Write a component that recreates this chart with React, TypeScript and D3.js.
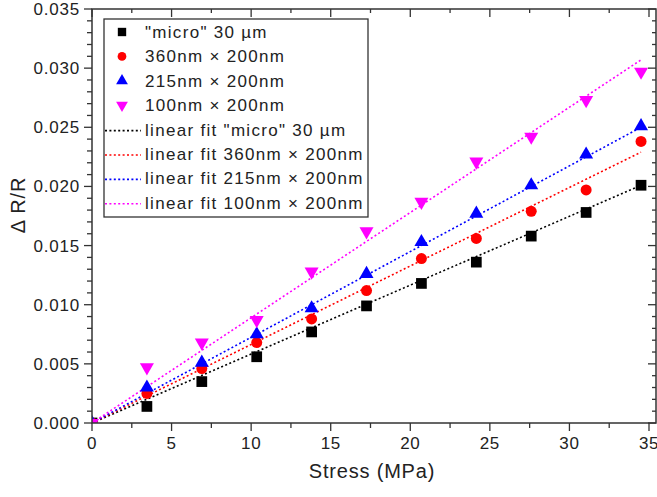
import React, { useEffect, useRef } from "react";
import * as d3 from "d3";

// stress values (MPa) shared by all series
const stress = [0, 3.45, 6.9, 10.35, 13.8, 17.25, 20.7, 24.15, 27.6, 31.05, 34.5];

const micro30 = [0, 0.0014, 0.0035, 0.0056, 0.0077, 0.0099, 0.0118, 0.0136, 0.0158, 0.0178, 0.0201];
const nm360 = [0, 0.0025, 0.0046, 0.0068, 0.0088, 0.0112, 0.0139, 0.0156, 0.0179, 0.0197, 0.0238];
const nm215 = [0, 0.0030, 0.0051, 0.0075, 0.0097, 0.0126, 0.0153, 0.0177, 0.0201, 0.0227, 0.0251];
const nm100 = [0, 0.0047, 0.0068, 0.0087, 0.0128, 0.0162, 0.0187, 0.0221, 0.0242, 0.0273, 0.0297];

// linear fit end values at the last stress point (fits go through origin)
const fitEnds = [0.0201, 0.0229, 0.025, 0.0307];

const seriesNames = ['"micro" 30 µm', "360nm × 200nm", "215nm × 200nm", "100nm × 200nm"];
const fitNames = seriesNames.map((n) => "linear fit " + n);
const colors = ["#000000", "#ff0000", "#0000ff", "#ff00ff"];
const seriesValues = [micro30, nm360, nm215, nm100];

const xTicks = [0, 5, 10, 15, 20, 25, 30, 35];
const yTicks = [0, 0.005, 0.01, 0.015, 0.02, 0.025, 0.03, 0.035];

const W = 657;
const H = 497;
const left = 92;
const right = 656;
const top = 9;
const bottom = 423;

const font = "'Liberation Sans', Arial, sans-serif";
const textColor = "#222";
const axisColor = "#333";

const symbolFor = (i, size) => {
  if (i === 0) return d3.symbol(d3.symbolSquare, size)();
  if (i === 1) return d3.symbol(d3.symbolCircle, size)();
  return d3.symbol(d3.symbolTriangle, size)();
};

const App = () => {
  const ref = useRef(null);

  useEffect(() => {
    const x = d3.scaleLinear().domain([0, 35.44]).range([left, right]);
    const y = d3.scaleLinear().domain([0, 0.035]).range([bottom, top]);

    const svg = d3.select(ref.current);
    svg.selectAll("*").remove();

    svg.append("rect").attr("width", W).attr("height", H).attr("fill", "white");

    svg
      .append("defs")
      .append("clipPath")
      .attr("id", "plot-clip")
      .append("rect")
      .attr("x", left)
      .attr("y", top)
      .attr("width", right - left)
      .attr("height", bottom - top);

    const plot = svg.append("g").attr("clip-path", "url(#plot-clip)");

    // fit lines
    fitEnds.forEach((end, i) => {
      const pts = [
        [stress[0], 0],
        [stress[stress.length - 1], end],
      ];
      plot
        .append("path")
        .attr("d", d3.line().x((d) => x(d[0])).y((d) => y(d[1]))(pts))
        .attr("fill", "none")
        .attr("stroke", colors[i])
        .attr("stroke-width", 1.6)
        .attr("stroke-dasharray", "2,2.4");
    });

    // markers
    seriesValues.forEach((vals, i) => {
      const size = i === 0 ? 115 : i === 1 ? 95 : 85;
      plot
        .selectAll(".m" + i)
        .data(vals)
        .enter()
        .append("path")
        .attr("d", symbolFor(i, size))
        .attr("fill", colors[i])
        .attr(
          "transform",
          (d, j) =>
            `translate(${x(stress[j])},${y(d)})` + (i === 3 ? " rotate(180)" : "")
        );
    });

    // frame
    svg
      .append("rect")
      .attr("x", left)
      .attr("y", top)
      .attr("width", right - left)
      .attr("height", bottom - top)
      .attr("fill", "none")
      .attr("stroke", axisColor)
      .attr("stroke-width", 1.5);

    const ax = svg.append("g").attr("stroke", axisColor).attr("stroke-width", 1.3);

    // x ticks, major every 5, minor every 2.5
    d3.range(0, 36, 2.5).forEach((v) => {
      const major = v % 5 === 0;
      const px = x(v);
      ax.append("line").attr("x1", px).attr("x2", px).attr("y1", bottom).attr("y2", bottom + (major ? 8 : 5));
      ax.append("line").attr("x1", px).attr("x2", px).attr("y1", top).attr("y2", top + (major ? 8 : 4));
    });

    // y ticks, major every 0.005, minor every 0.001
    d3.range(0, 36).forEach((k) => {
      const v = k / 1000;
      const major = k % 5 === 0;
      const py = y(v);
      ax.append("line").attr("x1", left).attr("x2", left - (major ? 8 : 5)).attr("y1", py).attr("y2", py);
      ax.append("line").attr("x1", right).attr("x2", right - (major ? 8 : 4)).attr("y1", py).attr("y2", py);
    });

    svg
      .append("g")
      .selectAll("text")
      .data(xTicks)
      .enter()
      .append("text")
      .attr("x", (d) => x(d))
      .attr("y", bottom + 26)
      .attr("text-anchor", "middle")
      .attr("font-family", font)
      .attr("font-size", 17)
      .attr("letter-spacing", 0.6)
      .attr("fill", textColor)
      .text((d) => d);

    svg
      .append("g")
      .selectAll("text")
      .data(yTicks)
      .enter()
      .append("text")
      .attr("x", left - 12)
      .attr("y", (d) => y(d) + 6)
      .attr("text-anchor", "end")
      .attr("font-family", font)
      .attr("font-size", 17)
      .attr("letter-spacing", 0.8)
      .attr("fill", textColor)
      .text((d) => d3.format(".3f")(d));

    svg
      .append("text")
      .attr("x", 372)
      .attr("y", 478)
      .attr("text-anchor", "middle")
      .attr("font-family", font)
      .attr("font-size", 20)
      .attr("letter-spacing", 0.8)
      .attr("fill", textColor)
      .text("Stress (MPa)");

    svg
      .append("text")
      .attr("transform", "translate(25,205) rotate(-90)")
      .attr("text-anchor", "middle")
      .attr("font-family", font)
      .attr("font-size", 20)
      .attr("letter-spacing", 0.8)
      .attr("fill", textColor)
      .text("Δ R/R");

    // legend
    const lg = svg.append("g");
    lg.append("rect")
      .attr("x", 104)
      .attr("y", 19)
      .attr("width", 264)
      .attr("height", 198)
      .attr("fill", "white")
      .attr("stroke", axisColor)
      .attr("stroke-width", 1.3);

    const rowY = (k) => 32 + k * 24.4;

    seriesNames.forEach((name, i) => {
      lg.append("path")
        .attr("d", symbolFor(i, i === 0 ? 70 : 60))
        .attr("fill", colors[i])
        .attr("transform", `translate(122,${rowY(i)})` + (i === 3 ? " rotate(180)" : ""));
      lg.append("text")
        .attr("x", 145)
        .attr("y", rowY(i) + 6)
        .attr("font-family", font)
        .attr("font-size", 17)
        .attr("letter-spacing", 1.3)
        .attr("fill", textColor)
        .text(name);
    });

    fitNames.forEach((name, i) => {
      const ry = rowY(i + 4);
      lg.append("line")
        .attr("x1", 105)
        .attr("x2", 141)
        .attr("y1", ry + 1)
        .attr("y2", ry + 1)
        .attr("stroke", colors[i])
        .attr("stroke-width", 1.6)
        .attr("stroke-dasharray", "2,2.4");
      lg.append("text")
        .attr("x", 145)
        .attr("y", ry + 6)
        .attr("font-family", font)
        .attr("font-size", 17)
        .attr("letter-spacing", 1.3)
        .attr("fill", textColor)
        .text(name);
    });
  }, []);

  return (
    <svg
      ref={ref}
      width={W}
      height={H}
      style={{ position: "absolute", left: 0, top: 0 }}
    />
  );
};

export default App;
